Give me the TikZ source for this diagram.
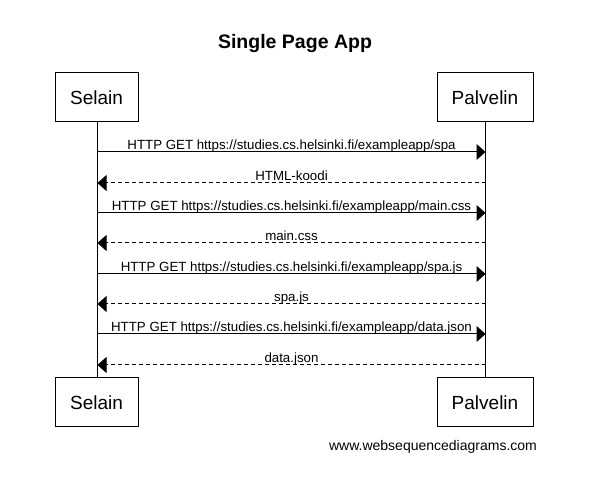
\documentclass[tikz,border=0pt]{standalone}
\usepackage{fontspec}
\setmainfont{Liberation Sans}
\usetikzlibrary{arrows.meta}
\begin{document}
\begin{tikzpicture}[x=1pt,y=-1pt,line width=1pt,
  actor/.style={draw,fill=white,inner sep=0pt,minimum height=49pt,font=\fontsize{19}{22}\selectfont},
  msg/.style={-{Triangle[length=9pt,width=16pt]}},
  reply/.style={msg,dash pattern=on 4pt off 3pt},
  lbl/.style={midway,anchor=base,yshift=2pt,inner sep=0pt,font=\fontsize{13.3}{16}\selectfont}]
\useasboundingbox (0,0) rectangle (606,486);
\node[anchor=base,font=\bfseries\fontsize{19.5}{22}\selectfont] (title) at (295,49) {Single Page App};
\coordinate (sTop) at (97.5,122);
\coordinate (pTop) at (485.5,122);
\coordinate (sBot) at (97.5,378);
\coordinate (pBot) at (485.5,378);
\draw (sTop) -- (sBot);
\draw (pTop) -- (pBot);
\node[actor,minimum width=83pt] (sT) at (96.5,97.5) {Selain};
\node[actor,minimum width=96pt] (pT) at (485,97.5) {Palvelin};
\node[actor,minimum width=83pt] (sB) at (96.5,402.5) {Selain};
\node[actor,minimum width=96pt] (pB) at (485,402.5) {Palvelin};
\foreach \i/\y in {1/152,2/183,3/213,4/243,5/274,6/304,7/334,8/365}{
  \coordinate (s\i) at (97.5,\y);
  \coordinate (p\i) at (485.5,\y);
}
\draw[msg] (s1) -- (p1) node[lbl] {HTTP GET https://studies.cs.helsinki.fi/exampleapp/spa};
\draw[reply] (p2) -- (s2) node[lbl] {HTML-koodi};
\draw[msg] (s3) -- (p3) node[lbl] {HTTP GET https://studies.cs.helsinki.fi/exampleapp/main.css};
\draw[reply] (p4) -- (s4) node[lbl] {main.css};
\draw[msg] (s5) -- (p5) node[lbl] {HTTP GET https://studies.cs.helsinki.fi/exampleapp/spa.js};
\draw[reply] (p6) -- (s6) node[lbl] {spa.js};
\draw[msg] (s7) -- (p7) node[lbl] {HTTP GET https://studies.cs.helsinki.fi/exampleapp/data.json};
\draw[reply] (p8) -- (s8) node[lbl] {data.json};
\node[anchor=base,font=\fontsize{14}{16}\selectfont] (footer) at (433,451) {www.websequencediagrams.com};
\end{tikzpicture}
\end{document}
